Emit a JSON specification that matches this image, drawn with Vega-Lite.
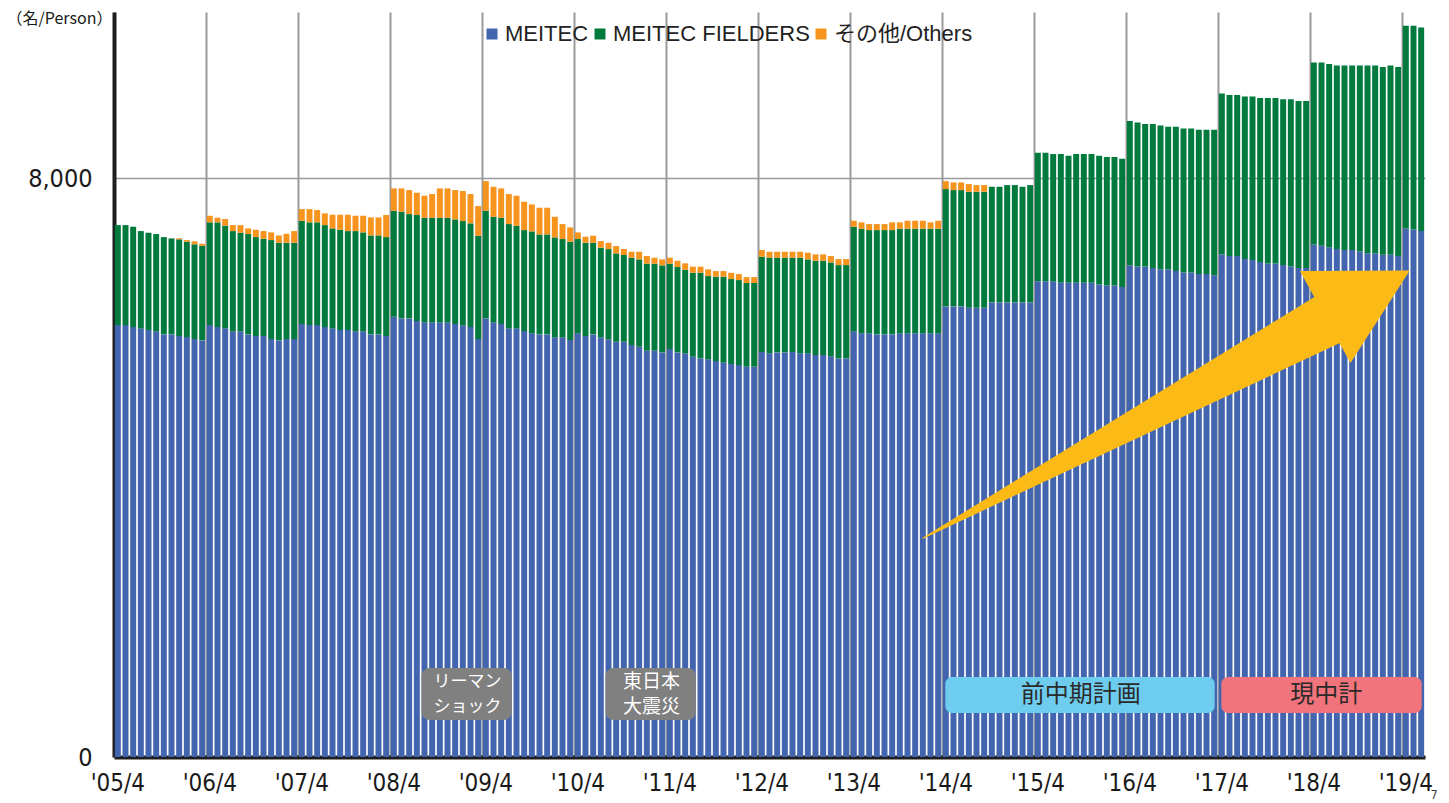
{
  "$schema": "https://vega.github.io/schema/vega-lite/v6.json",
  "width": 1311,
  "height": 745,
  "autosize": {"type": "none"},
  "padding": {"left": 114, "top": 12, "right": 24, "bottom": 46},
  "background": "#ffffff",
  "config": {"view": {"stroke": null}, "font": "Liberation Sans, Noto Sans CJK JP, sans-serif"},
  "datasets": {
    "staff": [
      {"month":"2005-04","MEITEC":5972,"MEITEC FIELDERS":1382,"その他/Others":0},
      {"month":"2005-05","MEITEC":5972,"MEITEC FIELDERS":1382,"その他/Others":0},
      {"month":"2005-06","MEITEC":5944,"MEITEC FIELDERS":1387,"その他/Others":0},
      {"month":"2005-07","MEITEC":5926,"MEITEC FIELDERS":1345,"その他/Others":0},
      {"month":"2005-08","MEITEC":5903,"MEITEC FIELDERS":1345,"その他/Others":0},
      {"month":"2005-09","MEITEC":5885,"MEITEC FIELDERS":1345,"その他/Others":0},
      {"month":"2005-10","MEITEC":5843,"MEITEC FIELDERS":1345,"その他/Others":0},
      {"month":"2005-11","MEITEC":5843,"MEITEC FIELDERS":1327,"その他/Others":0},
      {"month":"2005-12","MEITEC":5820,"MEITEC FIELDERS":1337,"その他/Others":15},
      {"month":"2006-01","MEITEC":5806,"MEITEC FIELDERS":1318,"その他/Others":23},
      {"month":"2006-02","MEITEC":5778,"MEITEC FIELDERS":1310,"その他/Others":41},
      {"month":"2006-03","MEITEC":5760,"MEITEC FIELDERS":1308,"その他/Others":28},
      {"month":"2006-04","MEITEC":5972,"MEITEC FIELDERS":1420,"その他/Others":91},
      {"month":"2006-05","MEITEC":5944,"MEITEC FIELDERS":1448,"その他/Others":64},
      {"month":"2006-06","MEITEC":5926,"MEITEC FIELDERS":1419,"その他/Others":92},
      {"month":"2006-07","MEITEC":5885,"MEITEC FIELDERS":1386,"その他/Others":83},
      {"month":"2006-08","MEITEC":5885,"MEITEC FIELDERS":1363,"その他/Others":106},
      {"month":"2006-09","MEITEC":5843,"MEITEC FIELDERS":1387,"その他/Others":78},
      {"month":"2006-10","MEITEC":5820,"MEITEC FIELDERS":1368,"その他/Others":102},
      {"month":"2006-11","MEITEC":5820,"MEITEC FIELDERS":1345,"その他/Others":106},
      {"month":"2006-12","MEITEC":5778,"MEITEC FIELDERS":1369,"その他/Others":106},
      {"month":"2007-01","MEITEC":5760,"MEITEC FIELDERS":1350,"その他/Others":101},
      {"month":"2007-02","MEITEC":5778,"MEITEC FIELDERS":1332,"その他/Others":124},
      {"month":"2007-03","MEITEC":5778,"MEITEC FIELDERS":1332,"その他/Others":161},
      {"month":"2007-04","MEITEC":5986,"MEITEC FIELDERS":1428,"その他/Others":161},
      {"month":"2007-05","MEITEC":5972,"MEITEC FIELDERS":1420,"その他/Others":183},
      {"month":"2007-06","MEITEC":5972,"MEITEC FIELDERS":1420,"その他/Others":170},
      {"month":"2007-07","MEITEC":5944,"MEITEC FIELDERS":1410,"その他/Others":162},
      {"month":"2007-08","MEITEC":5926,"MEITEC FIELDERS":1382,"その他/Others":189},
      {"month":"2007-09","MEITEC":5903,"MEITEC FIELDERS":1387,"その他/Others":207},
      {"month":"2007-10","MEITEC":5903,"MEITEC FIELDERS":1368,"その他/Others":226},
      {"month":"2007-11","MEITEC":5885,"MEITEC FIELDERS":1386,"その他/Others":212},
      {"month":"2007-12","MEITEC":5885,"MEITEC FIELDERS":1368,"その他/Others":230},
      {"month":"2008-01","MEITEC":5843,"MEITEC FIELDERS":1368,"その他/Others":249},
      {"month":"2008-02","MEITEC":5843,"MEITEC FIELDERS":1368,"その他/Others":249},
      {"month":"2008-03","MEITEC":5820,"MEITEC FIELDERS":1368,"その他/Others":305},
      {"month":"2008-04","MEITEC":6087,"MEITEC FIELDERS":1465,"その他/Others":309},
      {"month":"2008-05","MEITEC":6064,"MEITEC FIELDERS":1475,"その他/Others":322},
      {"month":"2008-06","MEITEC":6064,"MEITEC FIELDERS":1442,"その他/Others":332},
      {"month":"2008-07","MEITEC":6027,"MEITEC FIELDERS":1466,"その他/Others":308},
      {"month":"2008-08","MEITEC":6009,"MEITEC FIELDERS":1446,"その他/Others":305},
      {"month":"2008-09","MEITEC":6009,"MEITEC FIELDERS":1446,"その他/Others":328},
      {"month":"2008-10","MEITEC":6009,"MEITEC FIELDERS":1446,"その他/Others":406},
      {"month":"2008-11","MEITEC":6009,"MEITEC FIELDERS":1446,"その他/Others":406},
      {"month":"2008-12","MEITEC":5986,"MEITEC FIELDERS":1447,"その他/Others":405},
      {"month":"2009-01","MEITEC":5968,"MEITEC FIELDERS":1442,"その他/Others":415},
      {"month":"2009-02","MEITEC":5944,"MEITEC FIELDERS":1434,"その他/Others":405},
      {"month":"2009-03","MEITEC":5778,"MEITEC FIELDERS":1428,"その他/Others":411},
      {"month":"2009-04","MEITEC":6064,"MEITEC FIELDERS":1488,"その他/Others":410},
      {"month":"2009-05","MEITEC":6009,"MEITEC FIELDERS":1460,"その他/Others":415},
      {"month":"2009-06","MEITEC":5986,"MEITEC FIELDERS":1469,"その他/Others":406},
      {"month":"2009-07","MEITEC":5926,"MEITEC FIELDERS":1442,"その他/Others":415},
      {"month":"2009-08","MEITEC":5926,"MEITEC FIELDERS":1419,"その他/Others":415},
      {"month":"2009-09","MEITEC":5889,"MEITEC FIELDERS":1396,"その他/Others":392},
      {"month":"2009-10","MEITEC":5857,"MEITEC FIELDERS":1410,"その他/Others":373},
      {"month":"2009-11","MEITEC":5843,"MEITEC FIELDERS":1382,"その他/Others":369},
      {"month":"2009-12","MEITEC":5843,"MEITEC FIELDERS":1382,"その他/Others":369},
      {"month":"2010-01","MEITEC":5802,"MEITEC FIELDERS":1382,"その他/Others":285},
      {"month":"2010-02","MEITEC":5802,"MEITEC FIELDERS":1359,"その他/Others":207},
      {"month":"2010-03","MEITEC":5765,"MEITEC FIELDERS":1359,"その他/Others":198},
      {"month":"2010-04","MEITEC":5857,"MEITEC FIELDERS":1304,"その他/Others":92},
      {"month":"2010-05","MEITEC":5820,"MEITEC FIELDERS":1290,"その他/Others":83},
      {"month":"2010-06","MEITEC":5843,"MEITEC FIELDERS":1267,"その他/Others":97},
      {"month":"2010-07","MEITEC":5802,"MEITEC FIELDERS":1239,"その他/Others":92},
      {"month":"2010-08","MEITEC":5774,"MEITEC FIELDERS":1248,"その他/Others":88},
      {"month":"2010-09","MEITEC":5741,"MEITEC FIELDERS":1222,"その他/Others":101},
      {"month":"2010-10","MEITEC":5741,"MEITEC FIELDERS":1199,"その他/Others":82},
      {"month":"2010-11","MEITEC":5695,"MEITEC FIELDERS":1208,"その他/Others":82},
      {"month":"2010-12","MEITEC":5672,"MEITEC FIELDERS":1208,"その他/Others":105},
      {"month":"2011-01","MEITEC":5617,"MEITEC FIELDERS":1203,"その他/Others":106},
      {"month":"2011-02","MEITEC":5617,"MEITEC FIELDERS":1203,"その他/Others":83},
      {"month":"2011-03","MEITEC":5594,"MEITEC FIELDERS":1203,"その他/Others":83},
      {"month":"2011-04","MEITEC":5640,"MEITEC FIELDERS":1180,"その他/Others":83},
      {"month":"2011-05","MEITEC":5594,"MEITEC FIELDERS":1180,"その他/Others":87},
      {"month":"2011-06","MEITEC":5581,"MEITEC FIELDERS":1156,"その他/Others":88},
      {"month":"2011-07","MEITEC":5534,"MEITEC FIELDERS":1161,"その他/Others":84},
      {"month":"2011-08","MEITEC":5511,"MEITEC FIELDERS":1184,"その他/Others":84},
      {"month":"2011-09","MEITEC":5498,"MEITEC FIELDERS":1151,"その他/Others":93},
      {"month":"2011-10","MEITEC":5474,"MEITEC FIELDERS":1166,"その他/Others":78},
      {"month":"2011-11","MEITEC":5451,"MEITEC FIELDERS":1189,"その他/Others":78},
      {"month":"2011-12","MEITEC":5433,"MEITEC FIELDERS":1175,"その他/Others":87},
      {"month":"2012-01","MEITEC":5419,"MEITEC FIELDERS":1175,"その他/Others":83},
      {"month":"2012-02","MEITEC":5396,"MEITEC FIELDERS":1157,"その他/Others":82},
      {"month":"2012-03","MEITEC":5396,"MEITEC FIELDERS":1157,"その他/Others":82},
      {"month":"2012-04","MEITEC":5599,"MEITEC FIELDERS":1317,"その他/Others":93},
      {"month":"2012-05","MEITEC":5581,"MEITEC FIELDERS":1322,"その他/Others":82},
      {"month":"2012-06","MEITEC":5594,"MEITEC FIELDERS":1309,"その他/Others":82},
      {"month":"2012-07","MEITEC":5594,"MEITEC FIELDERS":1309,"その他/Others":82},
      {"month":"2012-08","MEITEC":5599,"MEITEC FIELDERS":1304,"その他/Others":82},
      {"month":"2012-09","MEITEC":5581,"MEITEC FIELDERS":1322,"その他/Others":82},
      {"month":"2012-10","MEITEC":5581,"MEITEC FIELDERS":1299,"その他/Others":92},
      {"month":"2012-11","MEITEC":5557,"MEITEC FIELDERS":1304,"その他/Others":88},
      {"month":"2012-12","MEITEC":5557,"MEITEC FIELDERS":1304,"その他/Others":88},
      {"month":"2013-01","MEITEC":5539,"MEITEC FIELDERS":1299,"その他/Others":88},
      {"month":"2013-02","MEITEC":5511,"MEITEC FIELDERS":1290,"その他/Others":83},
      {"month":"2013-03","MEITEC":5511,"MEITEC FIELDERS":1290,"その他/Others":83},
      {"month":"2013-04","MEITEC":5885,"MEITEC FIELDERS":1446,"その他/Others":83},
      {"month":"2013-05","MEITEC":5857,"MEITEC FIELDERS":1447,"その他/Others":88},
      {"month":"2013-06","MEITEC":5857,"MEITEC FIELDERS":1428,"その他/Others":83},
      {"month":"2013-07","MEITEC":5843,"MEITEC FIELDERS":1442,"その他/Others":83},
      {"month":"2013-08","MEITEC":5843,"MEITEC FIELDERS":1442,"その他/Others":83},
      {"month":"2013-09","MEITEC":5843,"MEITEC FIELDERS":1442,"その他/Others":107},
      {"month":"2013-10","MEITEC":5857,"MEITEC FIELDERS":1447,"その他/Others":88},
      {"month":"2013-11","MEITEC":5857,"MEITEC FIELDERS":1447,"その他/Others":110},
      {"month":"2013-12","MEITEC":5857,"MEITEC FIELDERS":1447,"その他/Others":110},
      {"month":"2014-01","MEITEC":5857,"MEITEC FIELDERS":1447,"その他/Others":110},
      {"month":"2014-02","MEITEC":5857,"MEITEC FIELDERS":1447,"その他/Others":88},
      {"month":"2014-03","MEITEC":5857,"MEITEC FIELDERS":1447,"その他/Others":110},
      {"month":"2014-04","MEITEC":6230,"MEITEC FIELDERS":1622,"その他/Others":110},
      {"month":"2014-05","MEITEC":6230,"MEITEC FIELDERS":1608,"その他/Others":106},
      {"month":"2014-06","MEITEC":6230,"MEITEC FIELDERS":1608,"その他/Others":106},
      {"month":"2014-07","MEITEC":6211,"MEITEC FIELDERS":1604,"その他/Others":106},
      {"month":"2014-08","MEITEC":6211,"MEITEC FIELDERS":1604,"その他/Others":92},
      {"month":"2014-09","MEITEC":6211,"MEITEC FIELDERS":1604,"その他/Others":92},
      {"month":"2014-10","MEITEC":6285,"MEITEC FIELDERS":1599,"その他/Others":0},
      {"month":"2014-11","MEITEC":6285,"MEITEC FIELDERS":1599,"その他/Others":0},
      {"month":"2014-12","MEITEC":6285,"MEITEC FIELDERS":1622,"その他/Others":0},
      {"month":"2015-01","MEITEC":6285,"MEITEC FIELDERS":1622,"その他/Others":0},
      {"month":"2015-02","MEITEC":6285,"MEITEC FIELDERS":1599,"その他/Others":0},
      {"month":"2015-03","MEITEC":6285,"MEITEC FIELDERS":1622,"その他/Others":0},
      {"month":"2015-04","MEITEC":6576,"MEITEC FIELDERS":1778,"その他/Others":0},
      {"month":"2015-05","MEITEC":6576,"MEITEC FIELDERS":1778,"その他/Others":0},
      {"month":"2015-06","MEITEC":6576,"MEITEC FIELDERS":1760,"その他/Others":0},
      {"month":"2015-07","MEITEC":6557,"MEITEC FIELDERS":1779,"その他/Others":0},
      {"month":"2015-08","MEITEC":6557,"MEITEC FIELDERS":1756,"その他/Others":0},
      {"month":"2015-09","MEITEC":6557,"MEITEC FIELDERS":1779,"その他/Others":0},
      {"month":"2015-10","MEITEC":6557,"MEITEC FIELDERS":1779,"その他/Others":0},
      {"month":"2015-11","MEITEC":6557,"MEITEC FIELDERS":1779,"その他/Others":0},
      {"month":"2015-12","MEITEC":6534,"MEITEC FIELDERS":1779,"その他/Others":0},
      {"month":"2016-01","MEITEC":6520,"MEITEC FIELDERS":1775,"その他/Others":0},
      {"month":"2016-02","MEITEC":6520,"MEITEC FIELDERS":1775,"その他/Others":0},
      {"month":"2016-03","MEITEC":6497,"MEITEC FIELDERS":1774,"その他/Others":0},
      {"month":"2016-04","MEITEC":6797,"MEITEC FIELDERS":1995,"その他/Others":0},
      {"month":"2016-05","MEITEC":6783,"MEITEC FIELDERS":1991,"その他/Others":0},
      {"month":"2016-06","MEITEC":6783,"MEITEC FIELDERS":1968,"その他/Others":0},
      {"month":"2016-07","MEITEC":6760,"MEITEC FIELDERS":1991,"その他/Others":0},
      {"month":"2016-08","MEITEC":6742,"MEITEC FIELDERS":1990,"その他/Others":0},
      {"month":"2016-09","MEITEC":6742,"MEITEC FIELDERS":1972,"その他/Others":0},
      {"month":"2016-10","MEITEC":6718,"MEITEC FIELDERS":1996,"その他/Others":0},
      {"month":"2016-11","MEITEC":6700,"MEITEC FIELDERS":1991,"その他/Others":0},
      {"month":"2016-12","MEITEC":6700,"MEITEC FIELDERS":1991,"その他/Others":0},
      {"month":"2017-01","MEITEC":6677,"MEITEC FIELDERS":1995,"その他/Others":0},
      {"month":"2017-02","MEITEC":6677,"MEITEC FIELDERS":1995,"その他/Others":0},
      {"month":"2017-03","MEITEC":6659,"MEITEC FIELDERS":2013,"その他/Others":0},
      {"month":"2017-04","MEITEC":6949,"MEITEC FIELDERS":2223,"その他/Others":0},
      {"month":"2017-05","MEITEC":6926,"MEITEC FIELDERS":2225,"その他/Others":0},
      {"month":"2017-06","MEITEC":6926,"MEITEC FIELDERS":2225,"その他/Others":0},
      {"month":"2017-07","MEITEC":6884,"MEITEC FIELDERS":2249,"その他/Others":0},
      {"month":"2017-08","MEITEC":6870,"MEITEC FIELDERS":2263,"その他/Others":0},
      {"month":"2017-09","MEITEC":6843,"MEITEC FIELDERS":2267,"その他/Others":0},
      {"month":"2017-10","MEITEC":6824,"MEITEC FIELDERS":2286,"その他/Others":0},
      {"month":"2017-11","MEITEC":6824,"MEITEC FIELDERS":2286,"その他/Others":0},
      {"month":"2017-12","MEITEC":6801,"MEITEC FIELDERS":2291,"その他/Others":0},
      {"month":"2018-01","MEITEC":6783,"MEITEC FIELDERS":2309,"その他/Others":0},
      {"month":"2018-02","MEITEC":6760,"MEITEC FIELDERS":2308,"その他/Others":0},
      {"month":"2018-03","MEITEC":6760,"MEITEC FIELDERS":2308,"その他/Others":0},
      {"month":"2018-04","MEITEC":7087,"MEITEC FIELDERS":2516,"その他/Others":0},
      {"month":"2018-05","MEITEC":7068,"MEITEC FIELDERS":2535,"その他/Others":0},
      {"month":"2018-06","MEITEC":7046,"MEITEC FIELDERS":2534,"その他/Others":0},
      {"month":"2018-07","MEITEC":7022,"MEITEC FIELDERS":2540,"その他/Others":0},
      {"month":"2018-08","MEITEC":7009,"MEITEC FIELDERS":2553,"その他/Others":0},
      {"month":"2018-09","MEITEC":7009,"MEITEC FIELDERS":2553,"その他/Others":0},
      {"month":"2018-10","MEITEC":6990,"MEITEC FIELDERS":2572,"その他/Others":0},
      {"month":"2018-11","MEITEC":6963,"MEITEC FIELDERS":2599,"その他/Others":0},
      {"month":"2018-12","MEITEC":6963,"MEITEC FIELDERS":2599,"その他/Others":0},
      {"month":"2019-01","MEITEC":6944,"MEITEC FIELDERS":2595,"その他/Others":0},
      {"month":"2019-02","MEITEC":6944,"MEITEC FIELDERS":2618,"その他/Others":0},
      {"month":"2019-03","MEITEC":6926,"MEITEC FIELDERS":2613,"その他/Others":0},
      {"month":"2019-04","MEITEC":7308,"MEITEC FIELDERS":2802,"その他/Others":0},
      {"month":"2019-05","MEITEC":7294,"MEITEC FIELDERS":2816,"その他/Others":0},
      {"month":"2019-06","MEITEC":7271,"MEITEC FIELDERS":2816,"その他/Others":0}
    ],
    "notes": [
      {"label": "リーマン\nショック", "kind": "event", "first": "2008-08", "last": "2009-07", "center": "2009-02"},
      {"label": "東日本\n大震災", "kind": "event", "first": "2010-08", "last": "2011-07", "center": "2011-02"},
      {"label": "前中期計画", "kind": "prev", "first": "2014-04", "last": "2017-03", "center": "2015-10"},
      {"label": "現中計", "kind": "now", "first": "2017-04", "last": "2019-06", "center": "2018-06"}
    ],
    "arrow": [
      {"month": "2014-01", "level": 3025, "end": 0},
      {"month": "2018-08", "level": 6172, "end": 1}
    ],
    "arrowhead": [
      {"month": "2018-11", "level": 6404}
    ]
  },
  "layer": [
    {
      "data": {"name": "staff"},
      "transform": [{"fold": ["MEITEC", "MEITEC FIELDERS", "その他/Others"], "as": ["group", "persons"]}],
      "mark": {"type": "bar"},
      "encoding": {
        "x": {
          "field": "month", "type": "ordinal",
          "scale": {"paddingInner": 0.22, "paddingOuter": 0.11},
          "axis": {
            "title": null,
            "values": ["2005-04","2006-04","2007-04","2008-04","2009-04","2010-04","2011-04","2012-04","2013-04","2014-04","2015-04","2016-04","2017-04","2018-04","2019-04"],
            "bandPosition": 0,
            "labelExpr": "\"'\" + substring(datum.value, 2, 4) + \"/4\"",
            "labelAngle": 0,
            "labelFont": "DejaVu Sans Condensed, sans-serif",
            "labelFontSize": 24,
            "labelColor": "#1a1a1a",
            "labelBaseline": "middle",
            "labelPadding": 26,
            "labelOverlap": false,
            "ticks": false,
            "tickSize": 0,
            "grid": true,
            "gridColor": "#9a9a9a",
            "gridWidth": 2,
            "domainColor": "#1e1e1e",
            "domainWidth": 4
          }
        },
        "y": {
          "field": "persons", "type": "quantitative", "stack": "zero",
          "scale": {"domain": [0, 10300], "nice": false},
          "axis": {
            "values": [0, 8000],
            "format": ",d",
            "title": "（名/Person）",
            "titleAngle": 0,
            "titleAlign": "left",
            "titleBaseline": "middle",
            "titleX": -108,
            "titleY": 6,
            "titleFont": "Noto Sans CJK JP, sans-serif",
            "titleFontSize": 16,
            "titleFontWeight": "normal",
            "titleColor": "#1a1a1a",
            "labelFont": "DejaVu Sans Condensed, sans-serif",
            "labelFontSize": 25,
            "labelColor": "#1a1a1a",
            "labelPadding": 22,
            "ticks": false,
            "tickSize": 0,
            "grid": true,
            "gridColor": "#9a9a9a",
            "gridWidth": 1.5,
            "domainColor": "#1e1e1e",
            "domainWidth": 4
          }
        },
        "color": {
          "field": "group", "type": "nominal",
          "scale": {"domain": ["MEITEC", "MEITEC FIELDERS", "その他/Others"], "range": ["#4364AF", "#007A3D", "#F7941E"]},
          "legend": {
            "title": null,
            "orient": "none",
            "legendX": 367,
            "legendY": 11,
            "direction": "horizontal",
            "padding": 0,
            "symbolType": "square",
            "symbolSize": 121,
            "symbolStrokeWidth": 0,
            "labelFont": "Liberation Sans, Noto Sans CJK JP, sans-serif",
            "labelFontSize": 22,
            "labelColor": "#222222",
            "labelOffset": 2,
            "columnPadding": 0,
            "labelLimit": 400
          }
        },
        "order": {"field": "group", "sort": "ascending"}
      }
    },
    {
      "data": {"name": "arrow"},
      "mark": {"type": "trail", "color": "#FBBA16"},
      "encoding": {
        "x": {"field": "month", "type": "ordinal"},
        "y": {"field": "level", "type": "quantitative"},
        "size": {"field": "end", "type": "quantitative", "scale": {"domain": [0, 1], "range": [0, 55]}, "legend": null}
      }
    },
    {
      "data": {"name": "arrowhead"},
      "mark": {"type": "point", "shape": "M-0.92,-1L0.92,0L-0.92,1Z", "size": 11000, "angle": 331.2, "filled": true, "color": "#FBBA16", "opacity": 1, "strokeWidth": 0},
      "encoding": {
        "x": {"field": "month", "type": "ordinal"},
        "y": {"field": "level", "type": "quantitative"}
      }
    },
    {
      "data": {"name": "notes"},
      "transform": [{"filter": "datum.kind === 'event'"}],
      "mark": {"type": "rect", "color": "#808080", "cornerRadius": 8},
      "encoding": {
        "x": {"field": "first", "type": "ordinal", "bandPosition": 0},
        "x2": {"field": "last", "bandPosition": 1},
        "y": {"datum": 1230, "type": "quantitative"},
        "y2": {"datum": 511}
      }
    },
    {
      "data": {"name": "notes"},
      "transform": [{"filter": "datum.kind === 'event'"}],
      "mark": {"type": "text", "color": "#ffffff", "lineBreak": "\n", "lineHeight": 25, "baseline": "middle", "align": "center", "font": "Noto Sans CJK JP, sans-serif"},
      "encoding": {
        "x": {"field": "center", "type": "ordinal", "bandPosition": 0},
        "y": {"datum": 1040, "type": "quantitative"},
        "text": {"field": "label"},
        "size": {"condition": {"test": "datum.first === '2008-08'", "value": 17}, "value": 19}
      }
    },
    {
      "data": {"name": "notes"},
      "transform": [{"filter": "datum.kind !== 'event'"}],
      "mark": {"type": "rect", "cornerRadius": 7, "xOffset": 2.5, "x2Offset": -2.5},
      "encoding": {
        "x": {"field": "first", "type": "ordinal", "bandPosition": 0},
        "x2": {"field": "last", "bandPosition": 1},
        "y": {"datum": 1106, "type": "quantitative"},
        "y2": {"datum": 608},
        "color": {"condition": {"test": "datum.kind === 'prev'", "value": "#6ECDEE"}, "value": "#F1737B"}
      }
    },
    {
      "data": {"name": "notes"},
      "transform": [{"filter": "datum.kind !== 'event'"}],
      "mark": {"type": "text", "color": "#2a2a2a", "fontSize": 24, "baseline": "middle", "align": "center", "font": "Noto Sans CJK JP, sans-serif"},
      "encoding": {
        "x": {"field": "center", "type": "ordinal", "bandPosition": 0},
        "y": {"datum": 857, "type": "quantitative"},
        "text": {"field": "label"}
      }
    },
    {
      "data": {"values": [{"page": "7"}]},
      "mark": {"type": "text", "fontSize": 12, "color": "#333333", "dx": 10, "baseline": "middle", "font": "DejaVu Sans Condensed, sans-serif"},
      "encoding": {
        "x": {"datum": "2019-06", "type": "ordinal", "bandPosition": 1},
        "y": {"datum": -520, "type": "quantitative"},
        "text": {"field": "page"}
      }
    }
  ]
}
